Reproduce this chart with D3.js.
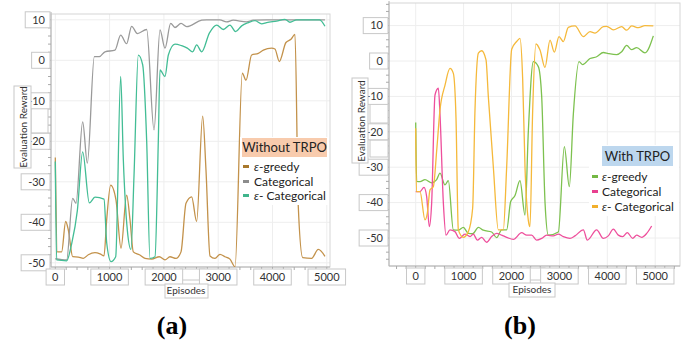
<!DOCTYPE html>
<html>
<head>
<meta charset="utf-8">
<script src="https://cdn.jsdelivr.net/npm/d3@7/dist/d3.min.js"></script>
<style>
body { margin: 0; background: #fff; }
text { font-family: Lato, "Open Sans", sans-serif; fill: #333; }
</style>
</head>
<body>
<svg id="chart" width="689" height="341"></svg>
<script>
var xTicks = [0, 1000, 2000, 3000, 4000, 5000];
var yTicks = [10, 0, -10, -20, -30, -40, -50];
var seriesNames = ["-greedy", "Categorical", "- Categorical"];
var panelTitles = ["Without TRPO", "With TRPO"];

// (a) without TRPO
var aGreedyEp  = [0, 37, 117, 191, 240, 320, 424, 516, 608, 731, 823, 897, 946, 1020, 1118, 1210, 1314, 1376, 1437, 1548, 1652, 1775, 1916, 2020, 2112, 2223, 2315, 2407, 2511, 2603, 2714, 2775, 2849, 2941, 3033, 3125, 3217, 3310, 3444, 3512, 3616, 3739, 3831, 3984, 4045, 4125, 4248, 4340, 4414, 4475, 4556, 4720, 4843, 4966];
var aGreedyVal = [-24, -47.3, -47.3, -39.8, -41.9, -48.5, -48.6, -48.9, -48, -47.5, -47.8, -48.3, -39.4, -30.8, -34.5, -46.4, -33.3, -39.4, -47.3, -48, -48.9, -49.1, -48.5, -49.3, -48.5, -48.9, -47.3, -35.3, -33.7, -39.8, -13.8, -27.1, -48.3, -48.9, -47.9, -48.5, -49.1, -51, -3.2, -4.9, 1.3, 1.7, 2.5, 3, 2.8, -0.3, 4.4, 5.2, 6.4, -36.1, -48.7, -48.9, -46.7, -48.4];
var aCatEp  = [0, 209, 320, 381, 504, 590, 719, 811, 915, 1099, 1204, 1314, 1406, 1511, 1683, 1818, 1928, 2020, 2125, 2204, 2315, 2419, 2696, 2788, 3030, 3153, 3276, 3521, 3644, 3900, 4200, 4600, 4966];
var aCatVal = [-49, -49.3, -34.1, -35.3, -15.2, -25.4, 0.9, 0.9, 2.1, 2.5, 6.2, 4.1, 8.4, 6.6, 7.6, -17.2, 7.5, 3, 9.1, 8.1, 9.1, 8.3, 9.9, 10, 10, 9.5, 9.9, 9.5, 9.9, 10, 10, 10, 10];
var aECatEp  = [0, 25, 209, 301, 406, 504, 627, 731, 897, 946, 1026, 1112, 1204, 1253, 1327, 1394, 1449, 1529, 1609, 1683, 1744, 1836, 1897, 1928, 2020, 2082, 2204, 2327, 2431, 2530, 2603, 2696, 2837, 2972, 3094, 3217, 3321, 3432, 3555, 3677, 3800, 3892, 4076, 4230, 4322, 4445, 4868, 4966];
var aECatVal = [-25, -49.3, -49.5, -45.3, -37.1, -22.6, -35.2, -33.8, -34.3, -45, -49.7, -48.5, -4, -24.6, -42, -46.7, -28.7, 1.3, -1.1, -20, -48.9, -48.5, -20, -2.4, -4, 1.3, 4, 3.6, 3, 2.1, 3.8, 2.1, 6.7, 8.7, 7.6, 8.7, 7.1, 8.5, 9.3, 9.8, 9, 9.3, 9.7, 10.1, 9.4, 10, 10, 8.4];

// (b) with TRPO
var bGreedyEp  = [0, 20, 90, 194, 333, 438, 507, 612, 681, 786, 890, 994, 1099, 1189, 1308, 1412, 1586, 1690, 1795, 1899, 1983, 2073, 2177, 2282, 2351, 2456, 2560, 2630, 2700, 2769, 2978, 3103, 3207, 3291, 3409, 3486, 3639, 3778, 3917, 4021, 4196, 4300, 4404, 4509, 4613, 4787, 4961];
var bGreedyVal = [-17.4, -34, -34.1, -33.5, -34.4, -33.5, -31.7, -35, -33.8, -47.7, -47.8, -47, -48.7, -48.8, -47, -47.8, -48.3, -49.9, -47.7, -47.7, -39.7, -38, -33.8, -43.5, -20, -0.2, -1.6, -10, -40, -49.2, -48.3, -24.2, -35.5, -15, -0.2, -1, 0.7, 1.2, 2.4, 2.1, 1.8, 2.6, 4.4, 3.2, 3.8, 2.3, 7.1];
var bCatEp  = [0, 90, 173, 229, 285, 333, 403, 473, 507, 577, 633, 716, 820, 911, 1029, 1134, 1203, 1287, 1377, 1482, 1586, 1690, 1795, 1899, 2038, 2212, 2317, 2421, 2525, 2630, 2734, 2873, 2978, 3082, 3221, 3326, 3500, 3583, 3778, 3917, 4021, 4126, 4230, 4321, 4418, 4530, 4613, 4718, 4822, 4926];
var bCatVal = [-36.9, -36.9, -35.7, -38.3, -46.8, -40.2, -9.6, -7.7, -15, -40, -49.2, -47.7, -48.2, -50.1, -48.9, -49.6, -48.9, -50.6, -49.8, -51.2, -49.6, -48.7, -49.2, -49.8, -50.4, -48.5, -49.2, -49.2, -50.6, -50.1, -49.2, -49.4, -48.9, -49.6, -50.1, -49.4, -47.7, -50.6, -47.7, -50.1, -49.4, -47.5, -49.2, -49.6, -48.5, -50.1, -49.2, -49.8, -48.7, -46.6];
var bECatEp  = [0, 15, 90, 194, 243, 299, 368, 440, 507, 612, 716, 786, 841, 890, 994, 1099, 1189, 1238, 1308, 1377, 1468, 1516, 1621, 1725, 1829, 1899, 2004, 2108, 2177, 2233, 2282, 2351, 2386, 2440, 2511, 2595, 2699, 2804, 2894, 2992, 3082, 3186, 3326, 3500, 3639, 3743, 3917, 3987, 4126, 4300, 4404, 4509, 4648, 4787, 4961];
var bECatVal = [-19, -36.9, -36.9, -44.9, -43, -36.4, -35.5, -25, -13.8, -6.8, -2.1, -3.5, -16, -47.7, -49.8, -48.2, -41.6, -13.8, 2.2, 2.9, 0.3, -10, -30, -47.7, -47.7, -30, 3.3, 5.5, 6.4, -5, -30, -45, -46.8, -15, 4.8, 3.1, -1.8, 5.9, 2.5, 6.9, 5.5, 9.5, 9.9, 6.9, 8.3, 7.9, 9.7, 9.8, 8.8, 9.7, 8.7, 9.9, 9.4, 10, 9.9];

function zip(ep, val) {
    return ep.map(function (e, i) { return { ep: e, v: val[i] }; });
}

var svg = d3.select("#chart");

var panels = [
    {
        id: "a", frame: [51, 14, 330, 267], xr: [55.3, 326.8], yr: [262.8, 19.8],
        colors: ["#c3924b", "#9a9a9a", "#43bd95"], legendColors: ["#a8782c", "#8c8c8c", "#3fb58c"],
        series: [zip(aGreedyEp, aGreedyVal), zip(aCatEp, aCatVal), zip(aECatEp, aECatVal)],
        legend: { x: 242, y: 138, w: 85, h: 19, fill: "#f8cbad", rowY: [167, 182, 196], mx: 243, tx: 254 },
        ylab: { x: 23, y: 127, box: [14, 86, 17, 82] },
        xlab: { x: 186, y: 294, box: [165, 284, 43, 14] },
        empty: [[31, 108, 17, 25], [180, 269, 25, 11]],
        tag: { x: 172, text: "(a)" }
    },
    {
        id: "b", frame: [389, 3, 680, 266], xr: [415.7, 655.2], yr: [238, 25.6],
        colors: ["#7dc14f", "#ee4f9c", "#f5b93b"], legendColors: ["#74b844", "#e8408f", "#f2b02c"],
        series: [zip(bGreedyEp, bGreedyVal), zip(bCatEp, bCatVal), zip(bECatEp, bECatVal)],
        legend: { x: 602, y: 146, w: 71, h: 20, fill: "#bdd7ee", rowY: [177, 192, 207], mx: 592, tx: 602 },
        ylab: { x: 361, y: 121, box: [352, 78, 16, 85] },
        xlab: { x: 532, y: 293, box: [509, 283, 46, 14] },
        empty: [[370, 103, 18, 20], [370, 140, 18, 17], [527, 268, 18, 12]],
        tag: { x: 520, text: "(b)" }
    }
];

panels.forEach(function (p) {
    var g = svg.append("g");
    var fx0 = p.frame[0], fy0 = p.frame[1], fx1 = p.frame[2], fy1 = p.frame[3];
    var x = d3.scaleLinear().domain([0, 5000]).range(p.xr);
    var y = d3.scaleLinear().domain([-50, 10]).range(p.yr);

    // grid
    g.selectAll(".vg").data(xTicks).enter().append("line")
        .attr("x1", function (d) { return x(d); }).attr("x2", function (d) { return x(d); })
        .attr("y1", fy0).attr("y2", fy1).attr("stroke", "#eeeeee");
    g.selectAll(".hg").data(yTicks).enter().append("line")
        .attr("x1", fx0).attr("x2", fx1)
        .attr("y1", function (d) { return y(d); }).attr("y2", function (d) { return y(d); })
        .attr("stroke", "#eeeeee");

    // frame
    g.append("rect").attr("x", fx0).attr("y", fy0).attr("width", fx1 - fx0).attr("height", fy1 - fy0)
        .attr("fill", "none").attr("stroke", "#d6d6d6");
    g.append("line").attr("x1", fx0).attr("x2", fx0).attr("y1", fy0 - 2).attr("y2", fy1).attr("stroke", "#b4b4b4");
    g.append("line").attr("x1", fx0).attr("x2", fx1).attr("y1", fy1).attr("y2", fy1).attr("stroke", "#b4b4b4");

    // minor ticks
    var yMinor = d3.range(-56, 17, 2).filter(function (v) { return y(v) >= fy0 && y(v) <= fy1; });
    g.selectAll(".ym").data(yMinor).enter().append("line")
        .attr("x1", fx0 - 3).attr("x2", fx0)
        .attr("y1", function (d) { return y(d); }).attr("y2", function (d) { return y(d); })
        .attr("stroke", "#aaa");
    var xMinor = d3.range(-600, 5600, 200).filter(function (v) { return x(v) >= fx0 && x(v) <= fx1; });
    g.selectAll(".xm").data(xMinor).enter().append("line")
        .attr("x1", function (d) { return x(d); }).attr("x2", function (d) { return x(d); })
        .attr("y1", fy1).attr("y2", fy1 + 3)
        .attr("stroke", "#aaa");

    // lines
    var clipId = "clip-" + p.id;
    svg.append("clipPath").attr("id", clipId).append("rect")
        .attr("x", fx0).attr("y", fy0).attr("width", fx1 - fx0).attr("height", fy1 - fy0);
    var line = d3.line()
        .x(function (d) { return x(d.ep); })
        .y(function (d) { return y(d.v); })
        .curve(d3.curveMonotoneX);
    g.append("g").attr("clip-path", "url(#" + clipId + ")")
        .selectAll("path").data(p.series).enter().append("path")
        .attr("d", line)
        .attr("fill", "none")
        .attr("stroke", function (d, i) { return p.colors[i]; })
        .attr("stroke-width", 1.3);

    // empty boxes
    g.selectAll(".eb").data(p.empty).enter().append("rect")
        .attr("x", function (d) { return d[0]; }).attr("y", function (d) { return d[1]; })
        .attr("width", function (d) { return d[2]; }).attr("height", function (d) { return d[3]; })
        .attr("fill", "#fff").attr("stroke", "#c8c8c8");

    // y tick labels in boxes
    yTicks.forEach(function (t) {
        var tg = g.append("g");
        var box = tg.append("rect");
        var txt = tg.append("text").attr("x", fx0 - 6).attr("y", y(t)).attr("dy", "0.35em")
            .attr("text-anchor", "end").attr("font-size", 11).text(t);
        var w = txt.node().getComputedTextLength();
        box.attr("x", fx0 - w - 13).attr("y", y(t) - 8).attr("width", w + 12).attr("height", 16)
            .attr("fill", "#fff").attr("stroke", "#c8c8c8");
    });

    // x tick labels in boxes
    xTicks.forEach(function (t) {
        var tg = g.append("g");
        var box = tg.append("rect");
        var txt = tg.append("text").attr("x", x(t)).attr("y", fy1 + 10).attr("dy", "0.35em")
            .attr("text-anchor", "middle").attr("font-size", 11).text(t);
        var w = txt.node().getComputedTextLength();
        box.attr("x", x(t) - w / 2 - 6).attr("y", fy1 + 2).attr("width", w + 12).attr("height", 16)
            .attr("fill", "#fff").attr("stroke", "#c8c8c8");
    });

    // axis titles
    g.append("rect").attr("x", p.xlab.box[0]).attr("y", p.xlab.box[1]).attr("width", p.xlab.box[2]).attr("height", p.xlab.box[3])
        .attr("fill", "#fff").attr("stroke", "#c8c8c8");
    g.append("text").attr("x", p.xlab.x).attr("y", p.xlab.y).attr("text-anchor", "middle")
        .attr("font-size", 10).text("Episodes");
    g.append("rect").attr("x", p.ylab.box[0]).attr("y", p.ylab.box[1]).attr("width", p.ylab.box[2]).attr("height", p.ylab.box[3])
        .attr("fill", "#fff").attr("stroke", "#c8c8c8");
    g.append("text").attr("transform", "translate(" + p.ylab.x + "," + p.ylab.y + ") rotate(-90)")
        .attr("text-anchor", "middle").attr("dy", "0.35em")
        .attr("font-size", 10).text("Evaluation Reward");

    // legend
    var L = p.legend;
    g.append("rect").attr("x", L.mx - 3).attr("y", L.y - 1).attr("width", fx1 - L.mx + 2).attr("height", L.rowY[2] - L.y + 10)
        .attr("fill", "#fff");
    g.append("rect").attr("x", L.x).attr("y", L.y).attr("width", L.w).attr("height", L.h).attr("fill", L.fill);
    g.append("text").attr("x", L.x + L.w / 2).attr("y", L.y + L.h / 2).attr("dy", "0.35em")
        .attr("text-anchor", "middle").attr("font-size", 13).style("fill", "#222")
        .text(panelTitles[p.id === "a" ? 0 : 1]);
    var rows = g.selectAll(".lg").data(seriesNames).enter().append("g");
    rows.append("rect")
        .attr("x", L.mx).attr("y", function (d, i) { return L.rowY[i] - 2; })
        .attr("width", 6).attr("height", 3)
        .attr("fill", function (d, i) { return p.legendColors[i]; });
    var lt = rows.append("text")
        .attr("x", L.tx).attr("y", function (d, i) { return L.rowY[i]; }).attr("dy", "0.35em")
        .attr("font-size", 12).style("fill", "#222");
    lt.filter(function (d, i) { return i !== 1; })
        .append("tspan").attr("font-style", "italic").text("ε");
    lt.append("tspan").text(function (d) { return d; });

    // panel tag
    svg.append("text").attr("x", p.tag.x).attr("y", 334).attr("text-anchor", "middle")
        .style("font-family", "'Liberation Serif', 'Times New Roman', serif")
        .attr("font-weight", "bold").attr("font-size", 26).style("fill", "#000")
        .text(p.tag.text);
});
</script>
</body>
</html>
